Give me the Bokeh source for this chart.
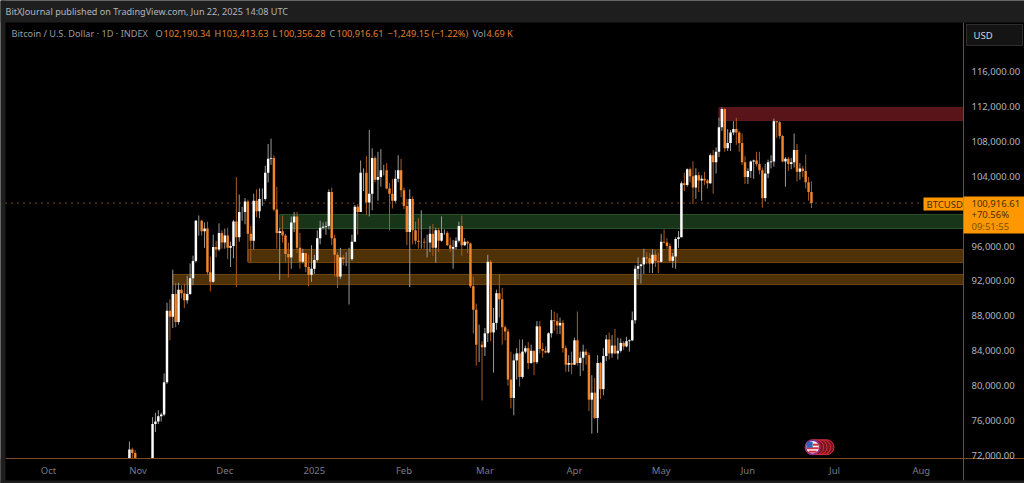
from bokeh.plotting import figure
from bokeh.embed import file_html
from bokeh.resources import INLINE
from bokeh.models import (Range1d, FixedTicker, NumeralTickFormatter, Label, BoxAnnotation,
                          LinearAxis, ColumnDataSource)

# Candles, daily, first candle is 29 Oct 2024 (day 28 counted from 1 Oct 2024). USD thousands.
first_day = 28
opens = [71.5,72.7,72.3,70.2,69.5,69.3,68.7,67.8,69.3,75.6,75.9,76.5,76.7,80.4,88.6,87.9,90.5,87.3,91,90.6,89.8,90.5,92.3,94.3,98.9,98.9,97.7,98,93,91.9,95.9,95.6,97.5,
 96.4,97.2,95.8,96,98.8,97,99.9,99.9,101.1,97.4,96.6,101.2,100,101.4,101.4,104.4,106,106.1,100.2,97.5,97.7,97.2,95.1,94.7,98.7,99.4,95.8,94.2,95.2,93.6,92.7,
 93.4,94.4,96.9,98.1,98.2,98.3,102.2,96.9,95,92.5,94.7,94.5,94.5,94.5,96.5,100.5,99.9,104.4,104.4,101,102,106.1,103.6,103.9,104.7,104.7,102.6,102,101.2,103.7,104.7,
 102.4,100.6,97.6,101.4,97.8,96.6,96.5,96.5,96.4,96.4,97.4,95.8,97.8,96.6,97.5,97.5,96.1,95.7,95.9,96.6,98.3,96.1,96.5,96.3,91.4,88.7,84.7,84.7,
 84.4,86,94.2,86.1,87.2,90.6,89.9,86.7,86.2,80.7,78.6,82.9,83.7,81,83.9,84.3,82.6,84,82.7,86.8,84.2,84,83.8,86,87.5,87.4,86.9,87.2,84.3,82.4,82.6,
 82.4,85.2,82.6,83.2,83.9,83.5,78.4,79.2,76.3,82.6,79.6,83.4,85.3,83.7,84.6,83.7,84,84.9,84.5,85.1,85.2,87.5,93.4,93.7,93.9,94.7,94.6,94,95,94.3,
 94.2,96.5,96.4,96,94.3,94.8,96.8,97,103.2,103,104.8,104,102.7,104.1,103.5,103.7,103.5,103.2,106.4,105.6,106.8,109.6,111.7,107.2,107.8,109,109.4,109,107.8,105.6,103.9,
 104.6,105.7,105.8,105.4,104.7,101.5,104.3,105.6,105.7,110.3,110.2,108.6,105.7,106,105.4,105.6,107,104.5,104.9,104.6,103.3,102.19]
highs = [73.6,72.9,72.6,71.5,70,69.4,69.5,70.5,76.4,76.9,77.2,76.9,81.4,89.5,89.9,93.3,91.8,91.8,91.5,91.7,92.6,94,94.9,99,99.5,99,98.7,98.8,94.8,97.3,96.6,98.6,97.8,
 98,98.1,96.5,99,103.9,101.9,100.5,101.5,101.3,98.3,102,102.5,102.6,102.6,105.2,107.7,108.3,106.4,102.8,98.1,99.5,97.4,96.4,99.4,99.9,99.9,97.5,95.7,95.2,95,96.1,
 95,97.8,98.9,98.7,98.8,102.5,102.7,97.3,95.3,95.8,95,95.3,95.8,97.3,100.7,100.8,105.8,104.9,106.3,109.3,107.2,106.3,106.8,107.1,105.3,105.5,103.2,103.7,104.7,106.4,106,
 102.7,101.4,102.5,101.7,98.8,99.2,100.1,96.9,97.3,98.3,98.5,98.1,98.1,99.4,97.9,97.7,97,96.7,97,98.8,99.5,96.9,96.6,96.4,92.5,89.4,87,85.1,
 86.6,95,94.4,88.9,91,92.8,91.2,86.9,86.5,83.9,83.6,84.3,85.3,85.3,84.6,85,84.7,84,87.4,87.4,84.9,84.5,86.1,88.7,88.5,88.3,87.8,87.5,84.6,83.5,83.9,
 85.5,88.5,83.9,84.7,84.2,83.8,81.2,80.9,83.5,82.7,84.3,85.8,86.1,85.8,86.5,85.5,85.4,85.1,85.6,85.3,88.5,93.8,94.7,94,95.7,95.3,95.2,95.6,95.5,95.2,
 97.4,97.9,96.9,96.3,95.2,97,97.7,103.4,104.4,104.9,105,105.7,104.9,104.5,104.1,104.5,103.7,106.6,107,107.3,110.7,111.9,111.8,109.4,109.3,110.3,110.7,109.2,108.9,106.3,104.9,
 105.8,105.9,106.8,106.8,105,105.4,105.9,106.4,110.6,110.3,110.3,108.7,106.2,106.2,106.1,108.9,107.7,105.5,105.2,106.5,103.9,103.41]
lows = [71.4,71.5,69.7,68.8,69,67.5,66.8,67.5,69.3,74.7,75.6,75.9,76.5,80.2,85.2,86.6,86.7,87,90,88.9,89.4,90.4,91.5,94.1,97.2,97.2,95.8,92.7,90.8,91.8,94.7,95.4,95.7,
 95.7,94.5,93.6,94.6,91.3,96.5,98.9,98.5,94.2,94.2,95.6,99.3,99.2,100.6,101.2,103.3,105.3,100,95.7,92.1,96.4,94.2,92.4,93.4,97.6,95.2,93.4,94,93,91.4,91.9,
 92.8,94.2,96.2,97.9,97.3,97.9,96.1,92.5,91.2,92.2,93.8,93.7,89.3,94.3,96.5,97.3,99.9,102.3,99.6,99.4,100.1,103.3,101.2,102.8,104.1,102.5,97.8,100.3,101,103.3,101.6,
 100.2,96.1,91.3,96.2,96.2,95.7,95.7,95.7,94.7,95.3,94.9,94.1,95.3,96.5,97.3,96,95.3,93.4,95.6,96.4,94.9,96,95.2,91.2,86,82.3,82.7,78.3,
 83.4,85,85.1,81.5,86.4,87.8,84.7,85.2,80,77.4,76.6,80.7,79.9,80.8,83.7,81.9,82.5,81.2,82.5,83.7,83.2,83.7,83.7,85.5,86.3,85.9,85.9,83.8,81.6,81.6,81.3,
 82.4,82.3,81.1,81.7,82.4,77.1,74.5,76.2,74.6,78.5,78.9,82.8,83,83.2,83.6,83,83.8,84.1,84.4,83.9,85.1,87.1,92.2,91.7,92.8,93.9,92.9,92.9,93.6,92.9,
 94.1,96.3,95.7,94.1,93.5,93.4,95.8,97,102.3,102.8,103.3,100.8,101.4,102.2,101.2,103,102.6,103.1,102,104.3,106.2,109.2,106.8,106.9,106.9,108.7,107.6,106.8,105.3,103.1,103.1,
 103.8,103.7,105.1,104.2,100.4,101.1,103.8,104.9,105.1,108.4,108.3,105.6,102.8,104.6,104.8,105,103.4,103.6,103.9,102.6,101.2,100.36]
closes = [72.7,72.3,70.2,69.5,69.3,68.7,67.8,69.3,75.6,75.9,76.5,76.7,80.4,88.6,87.9,90.5,87.3,91,90.6,89.8,90.5,92.3,94.3,98.9,98.9,97.7,98,93,91.9,95.9,95.6,97.5,96.4,
 97.2,95.8,96,98.8,97,99.9,99.9,101.1,97.4,96.6,101.2,100,101.4,101.4,104.4,106,106.1,100.2,97.5,97.7,97.2,95.1,94.7,98.7,99.4,95.8,94.2,95.2,93.6,92.7,93.4,
 94.4,96.9,98.1,98.2,98.3,102.2,96.9,95,92.5,94.7,94.5,94.5,94.5,96.5,100.5,99.9,104.4,104.4,101,102,106.1,103.6,103.9,104.7,104.7,102.6,102,101.2,103.7,104.7,102.4,
 100.6,97.6,101.4,97.8,96.6,96.5,96.5,96.4,96.4,97.4,95.8,97.8,96.6,97.5,97.5,96.1,95.7,95.9,96.6,98.3,96.1,96.5,96.3,91.4,88.7,84.7,84.7,84.4,
 86,94.2,86.1,87.2,90.6,89.9,86.7,86.2,80.7,78.6,82.9,83.7,81,83.9,84.3,82.6,84,82.7,86.8,84.2,84,83.8,86,87.5,87.4,86.9,87.2,84.3,82.4,82.6,82.4,
 85.2,82.6,83.2,83.9,83.5,78.4,79.2,76.3,82.6,79.6,83.4,85.3,83.7,84.6,83.7,84,84.9,84.5,85.1,85.2,87.5,93.4,93.7,93.9,94.7,94.6,94,95,94.3,94.2,
 96.5,96.4,96,94.3,94.8,96.8,97,103.2,103,104.8,104,102.7,104.1,103.5,103.7,103.5,103.2,106.4,105.6,106.8,109.6,111.7,107.2,107.8,109,109.4,109,107.8,105.6,103.9,104.6,
 105.7,105.8,105.4,104.7,101.5,104.3,105.6,105.7,110.3,110.2,108.6,105.7,106,105.4,105.6,107,104.5,104.9,104.6,103.3,102.19,100.92]

# Zones: start day, low price, high price (USD thousands)
zone_red = (232, 110.39, 111.88)
zone_green = (80, 98.01, 99.62)
zone_orange_a = (69, 94.12, 95.6)
zone_orange_b = (43, 91.59, 92.74)
last_price = 100916.61

price_ticks = [72000, 76000, 80000, 84000, 88000, 92000, 96000, 104000, 108000, 112000, 116000]
month_days = [0, 31, 61, 92, 123, 151, 182, 212, 242, 272, 302]
month_labels = ["Oct", "Nov", "Dec", "2025", "Feb", "Mar", "Apr", "May", "Jun", "Jul", "Aug"]
event_days = [264.4, 265.6, 266.8, 268.0, 269.2]

W, H = 1024, 483
BG = "#1e1e1e"
BLACK = "#000000"
ORANGE = "#f0852d"
FONT = "Noto Sans"
AXIS = "#7d4c24"
# the plotting area fills the canvas; price 72,000 sits 455 px down, 8.727 px per 1,000
PX_DAY, X0 = 2.89, 48
PX_K, Y0 = 8.727, 455
def dx(px): return (px - X0) / PX_DAY
def py(px): return 72000 + (Y0 - px) / PX_K * 1000

days = [first_day + i for i in range(len(closes))]
rows = list(zip(days, opens, highs, lows, closes))
def part(up):
    sel = [r for r in rows if (r[4] >= r[1]) == up]
    return ColumnDataSource(dict(
        x=[r[0] for r in sel],
        o=[r[1] * 1000 for r in sel],
        h=[r[2] * 1000 for r in sel],
        l=[r[3] * 1000 for r in sel],
        c=[r[4] * 1000 for r in sel]))

p = figure(width=W, height=H, output_backend="svg", toolbar_location=None,
           x_range=Range1d(dx(0), dx(W)), y_range=Range1d(py(H), py(0)),
           x_axis_location=None, y_axis_location=None,
           background_fill_color=BLACK, border_fill_color=BLACK,
           min_border=0, outline_line_color=None)
p.grid.visible = False

yaxis = LinearAxis(fixed_location=dx(963), ticker=FixedTicker(ticks=price_ticks),
                   formatter=NumeralTickFormatter(format="0,0.00"),
                   bounds=(py(480), py(22)),
                   major_label_text_color="#b2b5be", major_label_text_font=FONT,
                   major_label_text_font_size="9.5px", major_tick_line_color=None,
                   minor_tick_line_color=None, major_tick_out=0, major_tick_in=0,
                   minor_tick_out=0, major_label_standoff=8, axis_line_color=AXIS)
p.add_layout(yaxis, "right")
xaxis = LinearAxis(fixed_location=py(458), ticker=FixedTicker(ticks=month_days),
                   major_label_overrides=dict(zip(month_days, month_labels)),
                   bounds=(dx(5), dx(W)),
                   major_label_text_color="#787b86", major_label_text_font=FONT,
                   major_label_text_font_size="9.5px", major_tick_line_color=None,
                   minor_tick_line_color=None, major_tick_out=0, major_tick_in=0,
                   minor_tick_out=0, major_label_standoff=5, axis_line_color=AXIS)
p.add_layout(xaxis, "below")

right_edge = dx(963)
for (start, lo, hi), fill, edge in [(zone_red, "#581419", "#5e1a1f"),
                                    (zone_green, "#193519", "#2a5329"),
                                    (zone_orange_a, "#4e3107", "#6e4510"),
                                    (zone_orange_b, "#4e3107", "#6e4510")]:
    p.quad(left=[start], right=[right_edge], bottom=[lo * 1000], top=[hi * 1000],
           fill_color=fill, line_color=edge, line_width=1)

p.segment([dx(5)], [last_price], [right_edge], [last_price], line_color="#c87428",
          line_dash="1 5", line_width=1.3)

up, down = part(True), part(False)
p.segment("x", "l", "x", "h", source=up, line_color="#9a9a9a", line_width=1)
p.segment("x", "l", "x", "h", source=down, line_color="#a85c22", line_width=1)
p.vbar("x", 0.85, "o", "c", source=up, fill_color="#ffffff", line_color=None)
p.vbar("x", 0.85, "o", "c", source=down, fill_color=ORANGE, line_color=None)

# candles stop at the time axis: cover whatever lies below it
p.quad(left=[dx(0)], right=[dx(W)], top=[py(458.5)], bottom=[py(H)], fill_color=BLACK, line_color=None)

# economic-event marker with its flag
ev_y = 72950
p.scatter(event_days[::-1], [ev_y] * len(event_days), size=15, marker="circle", fill_color="#7a1420",
          line_color="#d8303c", line_width=1)
d0 = event_days[0]
p.scatter([d0], [ev_y], size=14, marker="circle", fill_color="#f2f2f2", line_color="#8a2a9a", line_width=1.5)
for off_px, width, height, off_x, colour in [(-4.5, 8, 2, 0, "#d8303c"), (-1.0, 12, 2, 0, "#d8303c"),
                                             (2.5, 6, 2, 3, "#d8303c"), (2.5, 6, 6, -3, "#2f63b8")]:
    p.rect([d0 + off_x / PX_DAY], [ev_y - off_px * -1 / PX_K * 1000], width=[width], height=[height],
           width_units="screen", height_units="screen", fill_color=colour, line_color=None)

def box(l, r, t, b, fill, edge=None):
    p.add_layout(BoxAnnotation(left=l, right=r, top=t, bottom=b,
                               left_units="canvas", right_units="canvas",
                               top_units="canvas", bottom_units="canvas",
                               fill_color=fill, fill_alpha=1, line_color=edge,
                               line_alpha=1 if edge else 0, level="annotation"))

def txt(x, y, s, color, size="9.5px", align="left", baseline="middle", weight="normal"):
    p.add_layout(Label(x=x, y=y, x_units="canvas", y_units="canvas", text=s,
                       text_color=color, text_font=FONT, text_font_size=size, text_align=align,
                       text_baseline=baseline, text_font_style=weight, level="annotation"))

# top, side and bottom strips
box(0, W, 0, 22, BG)
box(0, 5, 0, H, BG)
box(0, W, 480, H, BG)
txt(5, 11, "BitXJournal published on TradingView.com, Jun 22, 2025 14:08 UTC", "#b2b5be", "9.1px")

# header
GREY = "#9a9da6"
VAL = "#e0812e"
txt(11, 33, "Bitcoin / U.S. Dollar · 1D · INDEX", GREY, "9.2px")
for x, s, c in [(155, "O", GREY), (163, "102,190.34", VAL), (214, "H", GREY), (221, "103,413.63", VAL),
                (272, "L", GREY), (278, "100,356.28", VAL), (329, "C", GREY), (336, "100,916.61", VAL),
                (387, "−1,249.15 (−1.22%)", VAL), (472, "Vol", GREY), (486, "4.69 K", VAL)]:
    txt(x, 33, s, c, "9.2px")

# USD button
box(966, 1022, 24, 45, "#141414", "#2e2e2e")
txt(973, 35, "USD", "#d1d4dc", "9.5px")

# last price tag
box(923, 963, 197, 210, "#ff9800")
txt(926, 204, "BTCUSD", "#4a2e00", "9.5px")
box(963, 1024, 196, 233, "#ff9800")
txt(971, 203, "100,916.61", "#4a2e00", "9.5px")
txt(971, 214, "+70.56%", "#4a2e00", "9.5px")
txt(971, 226, "09:51:55", "#7a5000", "9.5px")

open("out.html", "w").write(file_html(p, INLINE))
